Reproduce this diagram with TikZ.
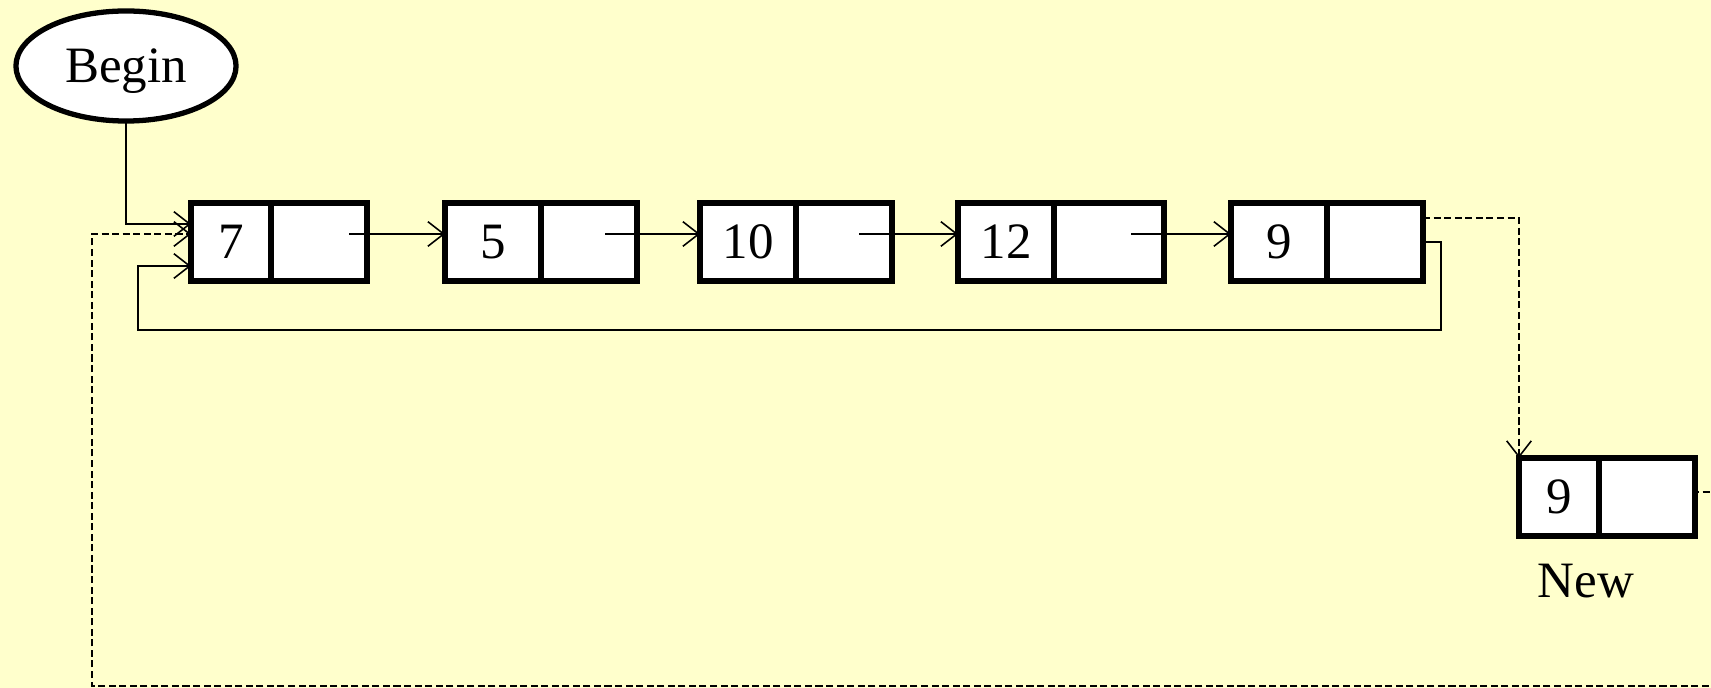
\documentclass[tikz,border=0pt]{standalone}
\usepackage{fontspec}
\setmainfont{Liberation Serif}
\usepackage{tikz}
\usetikzlibrary{arrows.meta, shapes.geometric, positioning}

\definecolor{bgyellow}{RGB}{255,255,204}

\tikzset{
  cell/.style={draw, line width=1.5pt, fill=white, minimum height=0.78cm,
               inner sep=0pt, outer sep=0pt, anchor=west},
  datacell/.style={cell, minimum width=0.96cm},
  ptrcell/.style={cell, minimum width=0.96cm},
  link/.style={-{Straight Barb[length=4.5pt, width=7pt]}, line width=0.45pt},
  dlink/.style={link, dash pattern=on 2pt off 1pt}
}

\begin{document}
\begin{tikzpicture}[x=0.01cm, y=-0.01cm,
    every node/.style={font=\fontsize{14.5pt}{17pt}\selectfont}]
  % Canvas
  \clip (0,0) rectangle (1711,688);
  \fill[bgyellow] (0,0) rectangle (1711,688);

  % Head pointer
  \node[draw, ellipse, line width=1.5pt, fill=white, inner sep=0pt, outer sep=0pt,
        text height=12.5pt, text depth=3pt,
        minimum width=2.2cm, minimum height=1.1cm] (begin) at (126,66) {Begin};

  % The list
  \node[datacell, minimum width=0.8cm] (d1) at (191,242) {7};
  \node[ptrcell] (p1) at (d1.east) {};
  \node[datacell] (d2) at (445,242) {5};
  \node[ptrcell] (p2) at (d2.east) {};
  \node[datacell] (d3) at (700,242) {10};
  \node[ptrcell] (p3) at (d3.east) {};
  \node[datacell] (d4) at (958,242) {12};
  \node[ptrcell, minimum width=1.1cm] (p4) at (d4.east) {};
  \node[datacell] (d5) at (1231,242) {9};
  \node[ptrcell] (p5) at (d5.east) {};

  % Node to be inserted
  \node[datacell, minimum width=0.8cm] (dn) at (1519,497) {9};
  \node[ptrcell] (pn) at (dn.east) {};
  \node (newlbl) at (1586,581) {New};

  % Links between the nodes
  \draw[link] (begin.south) |- ([yshift=0.18cm]d1.west);
  \draw[link] ([xshift=-0.18cm, yshift=0.08cm]p1.east) -- ([yshift=0.08cm]d2.west);
  \draw[link] ([xshift=-0.32cm, yshift=0.08cm]p2.east) -- ([yshift=0.08cm]d3.west);
  \draw[link] ([xshift=-0.33cm, yshift=0.08cm]p3.east) -- ([yshift=0.08cm]d4.west);
  \draw[link] ([xshift=-0.33cm, yshift=0.08cm]p4.east) -- ([yshift=0.08cm]d5.west);

  % Circular link back to the head
  \coordinate (loopR) at (1441,330);
  \coordinate (loopL) at (138,330);
  \draw[link] (p5.east) -| (loopR) -- (loopL) |- ([yshift=-0.24cm]d1.west);

  % New links (dashed)
  \draw[dlink] ([yshift=0.24cm]p5.east) -| (dn.north west);
  \coordinate (wrapR) at (1730,686);
  \coordinate (wrapL) at (92,686);
  \draw[dlink] ([xshift=-0.03cm, yshift=0.05cm]pn.east) -| (wrapR) -- (wrapL)
    |- ([yshift=0.08cm]d1.west);
\end{tikzpicture}
\end{document}
